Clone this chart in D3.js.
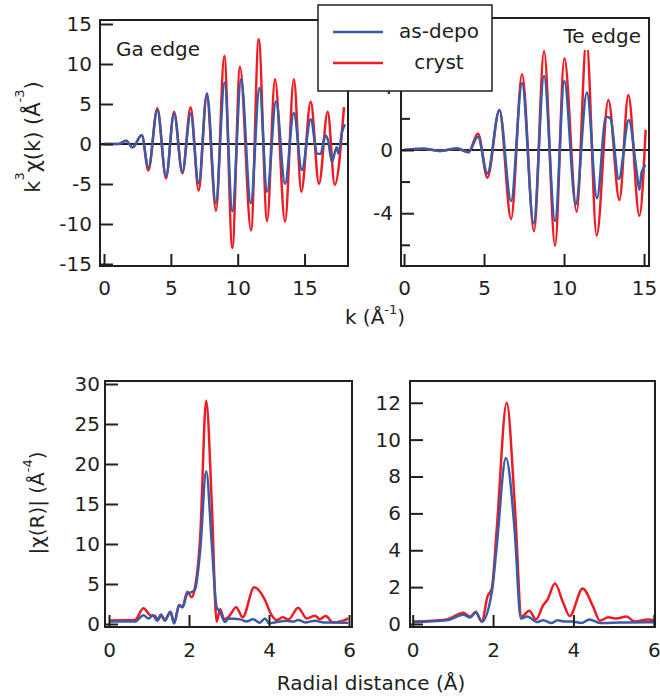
<!DOCTYPE html>
<html>
<head>
<meta charset="UTF-8">
<title>EXAFS</title>
<style>
body { margin: 0; background: #fff; }
text { font-family: "DejaVu Sans", sans-serif; fill: #231f20; }
</style>
</head>
<body>
<svg width="660" height="698"></svg>
<script src="https://d3js.org/d3.v7.min.js"></script>
<script>
// k-space, Ga edge: [k, k^3 chi(k)]
var gaDepo = [[0,0],[1.1,0],[1.65,0.4],[2.14,-0.42],[2.82,1.1],[3.32,-2.95],[3.99,4.25],[4.64,-4.0],[5.24,3.8],[5.86,-3.5],[6.48,3.8],[7.08,-4.9],[7.7,6.33],[8.36,-7.33],[9.02,7.7],[9.6,-8.4],[10.25,8.08],[10.98,-7.4],[11.63,7.04],[12.2,-5.96],[12.87,5.37],[13.54,-5.0],[14.2,3.92],[14.8,-3.25],[15.46,3.08],[15.95,-1.2],[16.2,-1.25],[16.55,1.05],[16.75,0.5],[17.05,-2.25],[17.4,-0.4],[17.53,-1.2],[17.8,1.5],[18.03,2.45]];
var gaCryst = [[0,0],[1.1,0],[1.65,0.4],[2.14,-0.42],[2.82,1.12],[3.32,-3.3],[3.99,4.46],[4.64,-4.3],[5.24,4.04],[5.86,-3.67],[6.48,4.58],[7.08,-5.83],[7.68,6.1],[8.38,-8.33],[9.0,11.0],[9.6,-13.0],[10.17,9.67],[11.0,-10.8],[11.57,13.08],[12.2,-9.63],[12.79,8.08],[13.54,-9.7],[14.2,8.08],[14.76,-5.96],[15.46,5.3],[16.08,-5.0],[16.73,4.04],[17.26,-5.1],[17.95,4.6]];

// k-space, Te edge
var teDepo = [[0,0],[1.2,0.08],[2.2,-0.06],[3.33,0.1],[4.02,-0.15],[4.62,0.84],[5.21,-1.48],[5.96,2.53],[6.69,-3.23],[7.375,4.22],[8.1,-4.64],[8.75,4.68],[9.44,-4.49],[10.02,4.37],[10.73,-3.44],[11.43,3.63],[12.06,-3.06],[12.62,2.1],[12.9,2.0],[13.42,-1.84],[14.05,1.9],[14.54,-1.37],[14.71,-2.53],[14.85,-1.4],[15.1,-0.95]];
var teCryst = [[0,0],[1.2,0.08],[2.2,-0.06],[3.33,0.1],[4.02,-0.15],[4.62,1.05],[5.21,-1.75],[5.96,2.53],[6.69,-4.37],[7.375,4.79],[8.125,-5.13],[8.75,6.27],[9.44,-6.06],[10.02,5.8],[10.79,-3.9],[11.4,7.0],[12.04,-5.42],[12.77,3.16],[13.46,-3.16],[14.02,3.48],[14.71,-4.16],[15.1,1.27]];

// R-space |chi(R)|, Ga edge
var rGaDepo = [[0,0.3],[0.65,0.3],[0.86,1.1],[0.99,0.7],[1.1,1.1],[1.2,0.4],[1.3,1.2],[1.4,0.4],[1.53,1.5],[1.63,0.05],[1.75,2.37],[1.84,2.1],[1.96,3.8],[2.07,4.0],[2.15,4.3],[2.28,9.2],[2.43,19.1],[2.57,10],[2.69,2.1],[2.78,1.5],[2.9,0.25],[2.99,0.7],[3.28,0.58],[3.44,0.3],[3.6,0.6],[3.77,0.17],[3.9,0.7],[4.0,0.1],[4.27,0.3],[4.44,0.4],[4.6,0.3],[4.73,0.5],[4.9,0.2],[5.15,0.4],[5.37,0.2],[5.6,0.2],[5.98,0.15]];
var rGaCryst = [[0,0.45],[0.65,0.5],[0.86,1.96],[1.03,1.1],[1.15,1.0],[1.23,0.5],[1.3,1.1],[1.39,0.5],[1.54,1.54],[1.63,0.17],[1.76,2.37],[1.83,2.1],[1.96,4.04],[2.07,3.33],[2.14,4.3],[2.28,10.9],[2.43,27.9],[2.57,15.1],[2.69,0.3],[2.78,1.83],[2.88,0.6],[2.99,0.9],[3.18,2.08],[3.34,0.83],[3.63,4.58],[3.9,3.0],[4.04,1.33],[4.19,0.5],[4.34,0.83],[4.49,0.58],[4.73,2.04],[4.94,0.7],[5.15,1.04],[5.27,0.6],[5.42,1.0],[5.6,0.2],[5.86,0.42],[5.98,0.7]];

// R-space |chi(R)|, Te edge
var rTeDepo = [[0,0.1],[0.85,0.2],[1.26,0.5],[1.43,0.35],[1.57,0.62],[1.72,0.13],[1.97,1.75],[2.09,4.2],[2.32,9.0],[2.54,5.0],[2.69,0.3],[2.85,0.4],[3.1,0.1],[3.25,0.2],[3.45,0.05],[3.6,0.2],[3.8,0.13],[3.97,0.13],[4.2,0.05],[4.4,0.25],[4.66,0.05],[5.15,0.08],[5.86,0.1],[6.0,0.1]];
var rTeCryst = [[0,0.13],[0.85,0.25],[1.26,0.61],[1.43,0.4],[1.57,0.67],[1.72,0.13],[1.86,1.48],[1.97,1.93],[2.09,5.1],[2.34,12.0],[2.54,6.5],[2.71,0.4],[2.9,0.72],[3.07,0.25],[3.25,1.03],[3.35,1.3],[3.54,2.2],[3.75,1.12],[3.91,0.43],[4.23,1.93],[4.49,0.94],[4.66,0.18],[4.87,0.36],[5.07,0.3],[5.32,0.4],[5.53,0.13],[5.86,0.25],[6.0,0.2]];

var kTicks = [0,5,10,15];
var gaTicks = [-15,-10,-5,0,5,10,15];
var teTicks = [-4,0,4,8];
var teMinor = [-6,-2,2];
var rTicks = [0,2,4,6];
var rGaTicks = [0,5,10,15,20,25,30];
var rTeTicks = [0,2,4,6,8,10,12];
var legendNames = ["as-depo","cryst"];

var blue = "#3a5ca6", red = "#ed1c24", ink = "#231f20";
var svg = d3.select("svg");

function styleAxis(g) {
  g.select(".domain").remove();
  g.selectAll("line").attr("stroke", ink).attr("stroke-width", 2);
  g.selectAll("text").attr("font-size", 20).attr("font-family", null).attr("fill", ink);
}

function panel(p) {
  var x = d3.scaleLinear().domain(p.xd).range([p.left, p.right]);
  var y = d3.scaleLinear().domain(p.yd).range([p.bottom, p.top]);
  var g = svg.append("g");

  if (p.zero) {
    g.append("line")
      .attr("x1", p.left).attr("x2", p.right)
      .attr("y1", y(0)).attr("y2", y(0))
      .attr("stroke", ink).attr("stroke-width", 2);
  }

  var line = d3.line().x(function(d){return x(d[0]);}).y(function(d){return y(d[1]);}).curve(d3.curveMonotoneX);
  g.append("path").datum(p.cryst).attr("d", line).attr("fill", "none").attr("stroke", red).attr("stroke-width", 2.5);
  g.append("path").datum(p.depo).attr("d", line).attr("fill", "none").attr("stroke", blue).attr("stroke-width", 2.5);

  g.append("rect")
    .attr("x", p.left).attr("y", p.top)
    .attr("width", p.right - p.left).attr("height", p.bottom - p.top)
    .attr("fill", "none").attr("stroke", ink).attr("stroke-width", 2);

  g.append("g").attr("transform", "translate(0," + p.bottom + ")")
    .call(d3.axisBottom(x).tickValues(p.xt).tickSize(-12).tickPadding(p.xpad).tickFormat(String))
    .call(styleAxis);
  g.append("g").attr("transform", "translate(" + p.left + ",0)")
    .call(d3.axisLeft(y).tickValues(p.yt).tickSize(-13).tickPadding(p.ypad).tickFormat(String))
    .call(styleAxis);
  if (p.ym) {
    g.append("g").attr("transform", "translate(" + p.left + ",0)")
      .call(d3.axisLeft(y).tickValues(p.ym).tickSize(-9).tickFormat(""))
      .call(styleAxis);
  }
  return g;
}

panel({xd:[-0.3,18.25], yd:[-15.25,15.5], left:100, right:348, top:20, bottom:266,
  xt:kTicks, yt:gaTicks, xpad:15, ypad:8, zero:true, depo:gaDepo, cryst:gaCryst});
panel({xd:[-0.19,15.31], yd:[-7.34,8.35], left:401, right:649, top:18, bottom:266,
  xt:kTicks, yt:teTicks, ym:teMinor, xpad:15, ypad:8, zero:true, depo:teDepo, cryst:teCryst});
panel({xd:[-0.1,6.075], yd:[-0.375,30.375], left:105, right:352, top:381, bottom:627,
  xt:rTicks, yt:rGaTicks, xpad:16, ypad:5, zero:false, depo:rGaDepo, cryst:rGaCryst});
panel({xd:[-0.067,6.03], yd:[-0.163,13.18], left:410, right:655, top:381, bottom:627,
  xt:rTicks, yt:rTeTicks, xpad:16, ypad:9, zero:false, depo:rTeDepo, cryst:rTeCryst});

// panel labels
svg.append("text").attr("x", 116).attr("y", 56).attr("font-size", 20).text("Ga edge");
svg.append("rect").attr("x", 553).attr("y", 20).attr("width", 94).attr("height", 30).attr("fill", "#fff");
svg.append("text").attr("x", 641).attr("y", 43).attr("text-anchor", "end").attr("font-size", 20).text("Te edge");

// legend
var lg = svg.append("g");
lg.append("rect").attr("x", 318).attr("y", 5).attr("width", 174).attr("height", 86)
  .attr("fill", "#fff").attr("stroke", ink).attr("stroke-width", 1.5);
[blue, red].forEach(function(c, i) {
  lg.append("line").attr("x1", 333).attr("x2", 383).attr("y1", 32 + i*31).attr("y2", 32 + i*31)
    .attr("stroke", c).attr("stroke-width", 2.5);
  lg.append("text").attr("x", 439).attr("y", 38 + i*31).attr("text-anchor", "middle")
    .attr("font-size", 20).text(legendNames[i]);
});

// axis titles: parts are [text, raised?]; dy is reset on the part after a superscript
function title(t, parts, up) {
  var shift = 0;
  parts.forEach(function(pt) {
    var want = pt[1] ? -up : 0;
    var s = t.append("tspan").attr("dy", want - shift).text(pt[0]);
    if (pt[1]) s.attr("font-size", 13);
    shift = want;
  });
}
var t1 = svg.append("text").attr("transform", "translate(40,137) rotate(-90)")
  .attr("text-anchor", "middle").attr("font-size", 21);
title(t1, [["k",0],["3",1],["\u03c7(k) (\u00c5",0],["-3",1],[")",0]], 16);

var t2 = svg.append("text").attr("x", 375).attr("y", 324).attr("text-anchor", "middle").attr("font-size", 20);
title(t2, [["k (\u00c5",0],["-1",1],[")",0]], 10);

var t3 = svg.append("text").attr("transform", "translate(44,503) rotate(-90)")
  .attr("text-anchor", "middle").attr("font-size", 20);
title(t3, [["|\u03c7(R)| (\u00c5",0],["-4",1],[")",0]], 12);

svg.append("text").attr("x", 371).attr("y", 690).attr("text-anchor", "middle")
  .attr("font-size", 20).text("Radial distance (\u00c5)");
</script>
</body>
</html>
